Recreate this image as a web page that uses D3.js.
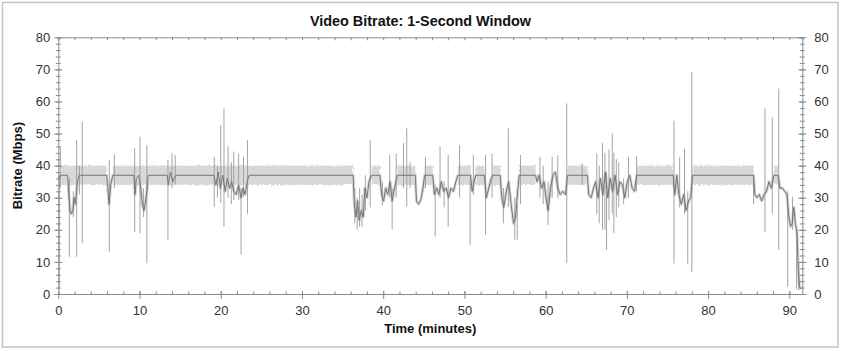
<!DOCTYPE html>
<html>
<head>
<meta charset="utf-8">
<script src="https://cdn.jsdelivr.net/npm/d3@7"></script>
<style>
  body { margin: 0; background: #fff; }
  svg { display: block; }
  text { font-family: "Liberation Sans", Arial, sans-serif; }
</style>
</head>
<body>
<svg id="chart"></svg>
<script>
// steady stretches where the 1-second values sit in a tight band (minutes, Mbps)
var bandStart = [0.3, 6.7, 38.55, 41.75, 45.1, 49.2, 51.4, 53.5, 56.75, 62.7, 71.2, 78.1, 88.1]
var bandEnd   = [5.95, 36.3, 39.6, 43.95, 46.1, 50.75, 52.45, 54.4, 58.75, 65.15, 75.7, 85.6, 88.6]
var bandLow   = [34, 34, 34, 34, 34, 34, 34, 34, 34, 34, 34, 34, 34]
var bandHigh  = [40, 40, 40, 40, 40, 40, 40, 40, 40, 40, 40, 40, 40]

// underlying bitrate trace (minutes, Mbps)
var baseTime = [0.0, 0.35, 1.15, 1.3, 1.45, 1.6, 1.8, 1.95, 2.1, 2.35, 2.6, 5.95, 6.1, 6.25, 6.45, 6.7,
  9.3, 9.45, 9.6, 9.9, 10.15, 10.35, 10.55, 10.75, 10.95, 11.05, 13.4, 13.55, 13.8, 14.1, 14.45,
  19.15, 19.4, 19.7, 19.95, 20.25, 20.55, 20.8, 21.1, 21.35, 21.6, 21.9, 22.2, 22.5, 22.75, 23.0, 23.25, 23.5,
  36.3, 36.45, 36.65, 36.85, 37.05, 37.3, 37.55, 37.75, 38.0, 38.25, 38.55, 39.6, 39.8, 40.05, 40.3, 40.55,
  40.85, 41.1, 41.4, 41.75, 43.95, 44.1, 44.35, 44.65, 44.9, 45.1, 46.1, 46.3, 46.6, 46.85, 47.15, 47.45,
  47.75, 48.05, 48.35, 48.65, 48.95, 49.2, 50.75, 50.95, 51.2, 51.4, 52.45, 52.7, 53.0, 53.3, 53.5, 54.4,
  54.6, 54.85, 55.15, 55.45, 55.75, 56.05, 56.3, 56.55, 56.75, 58.75, 58.95, 59.2, 59.5, 59.8, 60.05, 60.3,
  60.6, 60.9, 61.2, 61.5, 61.8, 62.1, 62.45, 62.7, 65.15, 65.3, 65.6, 65.9, 66.15, 66.45, 66.75, 67.05,
  67.35, 67.65, 67.95, 68.25, 68.55, 68.85, 69.15, 69.45, 69.75, 70.05, 70.35, 70.65, 70.95, 71.2, 75.7,
  75.9, 76.15, 76.4, 76.7, 77.0, 77.3, 77.6, 77.85, 78.1, 85.6, 85.75, 86.0, 86.3, 86.6, 86.9, 87.2, 87.5,
  87.8, 88.1, 88.6, 88.85, 89.15, 89.45, 89.7, 89.95, 90.15, 90.35, 90.55, 90.75, 90.95, 91.1, 91.25, 91.4]
var baseRate = [36, 37, 37, 31, 26, 25, 26, 30, 28, 35, 37, 37, 33, 28, 34, 37,
  37, 31, 36, 37, 33, 28, 26, 29, 33, 37, 37, 34, 38, 35, 37,
  37, 34, 38, 33, 37, 32, 36, 33, 35, 32, 31, 34, 30, 33, 31, 35, 37,
  37, 28, 24, 29, 23, 26, 24, 33, 30, 35, 37, 37, 31, 29, 33, 31,
  35, 29, 33, 37, 37, 29, 28, 29.5, 33, 37, 37, 31, 33, 31, 35, 32,
  33, 30, 33, 32, 35, 37, 37, 32, 35, 37, 37, 30, 33, 36, 37, 37,
  30, 27, 32, 35, 28, 22, 24, 32, 37, 37, 35, 37, 33, 35, 30, 26,
  33, 37, 38, 33, 31, 32, 31, 37, 37, 31, 30, 33, 35, 30, 36, 31,
  38, 30, 36, 32, 37, 31, 35, 34, 30, 35, 37, 33, 32, 37, 37,
  31, 37, 31, 28, 31, 26, 29, 30, 37, 37, 31, 30, 31, 29, 31, 32, 35,
  33, 37, 37, 33, 33, 32, 31, 24, 21, 22, 27, 22, 19, 8, 2.5, 1.5]

// short spikes: minute, lowest and highest 1-second value (Mbps)
var spikeTime = [0.12, 0.25, 1.36, 1.85, 2.26, 2.6, 2.95, 6.28, 6.9, 9.4, 10.06, 10.5, 10.9, 13.5, 14.0, 14.4,
  19.2, 19.6, 20.0, 20.4, 20.9, 21.3, 21.6, 22.2, 22.5, 22.8, 23.3, 36.5, 36.8, 37.1, 37.4, 37.8, 38.4,
  39.9, 40.8, 41.1, 41.6, 42.5, 42.9, 43.3, 45.2, 46.4, 47.0, 47.5, 48.0, 49.4, 50.7, 51.1, 52.6, 53.4,
  54.8, 55.4, 56.2, 56.5, 56.9, 59.3, 59.7, 60.3, 60.8, 61.5, 62.6, 64.5, 66.3, 66.6, 67.0, 67.3, 67.5,
  67.8, 68.2, 68.4, 68.7, 69.0, 69.6, 70.2, 71.2, 75.8, 76.5, 77.1, 77.5, 78.0, 85.6, 87.0, 87.9, 88.7,
  89.8, 90.4, 90.9, 91.15]
var spikeLow = [1.5, 33, 11.6, 24, 11.6, 31, 15.8, 13.2, 33, 19.4, 18.9, 24, 9.6, 16.8, 33, 34,
  27.2, 30, 28.3, 21, 30, 28, 29.3, 29.3, 12.2, 30.3, 25, 22, 20, 21, 21, 26, 27,
  27.6, 30, 20, 30, 33, 27.2, 33, 33, 17.9, 30, 27, 21, 30, 15.3, 31, 18.4, 30,
  22, 27, 17, 16.8, 28, 30, 28, 21.5, 30, 30, 9.6, 34, 25, 22, 20, 20, 13.7,
  23, 25, 19, 24, 27, 28, 30, 32, 9.5, 27, 25, 9.4, 6.8, 28, 19.3, 25, 13.7,
  2.3, 20, 1.5, 1.2]
var spikeHigh = [37, 46, 36, 32, 48, 40, 53.7, 41.8, 43.6, 45.4, 49, 33, 46.4, 41.8, 43.8, 43.3,
  42.8, 40, 52.7, 57.9, 46, 41, 44.4, 43.8, 33, 42.8, 48, 33, 30, 33, 31, 37, 48,
  35, 43.3, 33, 43.8, 47, 51.6, 41, 42.8, 34, 46, 35, 43.3, 46.4, 36, 43.3, 43.3, 43.8,
  33, 51.6, 30, 28, 43.3, 42.8, 40, 35, 42.8, 43.3, 59.4, 40.7, 43.8, 40, 47, 44, 38,
  45, 50, 44, 42, 41, 36, 42.8, 43, 54, 42.7, 45.3, 32, 69.3, 37, 57.9, 55, 64,
  32, 30.3, 20, 10]

var xTicks = [0, 10, 20, 30, 40, 50, 60, 70, 80, 90]
var yTicks = [0, 10, 20, 30, 40, 50, 60, 70, 80]

var width = 841
var height = 351
var plotLeft = 58.3, plotRight = 802.3, plotTop = 37.3, plotBottom = 294

var svg = d3.select('#chart').attr('width', width).attr('height', height)

// outer frame
svg.append('rect')
  .attr('x', 2.5).attr('y', 2.5)
  .attr('width', 835.5).attr('height', 344.5)
  .attr('fill', '#fff')
  .attr('stroke', '#c4c4c4')
  .attr('stroke-width', 1.5)

var x = d3.scaleLinear().domain([0, 91.6]).range([plotLeft, plotRight])
var y = d3.scaleLinear().domain([0, 80]).range([plotBottom, plotTop])

// fuzzy edges for the band
var defs = svg.append('defs')
var fuzz = defs.append('filter').attr('id', 'fuzz')
  .attr('x', '-2%').attr('y', '-30%').attr('width', '104%').attr('height', '160%')
fuzz.append('feTurbulence')
  .attr('type', 'fractalNoise').attr('baseFrequency', '0.6 0.3')
  .attr('numOctaves', 2).attr('seed', 3).attr('result', 'noise')
fuzz.append('feDisplacementMap')
  .attr('in', 'SourceGraphic').attr('in2', 'noise')
  .attr('scale', 3.5).attr('xChannelSelector', 'R').attr('yChannelSelector', 'G')

var plot = svg.append('g')

plot.append('g')
  .attr('filter', 'url(#fuzz)')
  .selectAll('rect')
  .data(bandStart)
  .enter().append('rect')
    .attr('x', function (d, i) { return x(bandStart[i]) })
    .attr('width', function (d, i) { return x(bandEnd[i]) - x(bandStart[i]) })
    .attr('y', function (d, i) { return y(bandHigh[i]) })
    .attr('height', function (d, i) { return y(bandLow[i]) - y(bandHigh[i]) })
    .attr('fill', '#d8d8d8')

var base = baseTime.map(function (t, i) { return [t, baseRate[i]] })
var line = d3.line()
  .x(function (d) { return x(d[0]) })
  .y(function (d) { return y(d[1]) })

// light halo around the trace
plot.append('path')
  .datum(base)
  .attr('d', line)
  .attr('fill', 'none')
  .attr('stroke', '#d6d6d6')
  .attr('stroke-width', 3)
  .attr('stroke-linejoin', 'round')

plot.append('g')
  .selectAll('line')
  .data(spikeTime)
  .enter().append('line')
    .attr('x1', function (d) { return x(d) })
    .attr('x2', function (d) { return x(d) })
    .attr('y1', function (d, i) { return y(spikeLow[i]) })
    .attr('y2', function (d, i) { return y(spikeHigh[i]) })
    .attr('stroke', '#9a9a9a')
    .attr('stroke-width', 0.9)

plot.append('path')
  .datum(base)
  .attr('d', line)
  .attr('fill', 'none')
  .attr('stroke', '#767676')
  .attr('stroke-width', 1)

// axes
var axisColor = '#8a8a8a'
function styleAxis(g, showDomain) {
  g.selectAll('line').attr('stroke', axisColor)
  g.select('.domain').attr('stroke', showDomain ? axisColor : 'none')
  g.selectAll('text').attr('fill', '#333').attr('font-size', 13)
    .attr('font-family', '"Liberation Sans", Arial, sans-serif')
}

var yMinor = d3.range(0, 81, 2)
var xMinor = d3.range(0, 91, 2)

// left
svg.append('g').attr('transform', 'translate(' + plotLeft + ',0)')
  .call(d3.axisLeft(y).tickValues(yMinor).tickSize(2.5).tickFormat(''))
  .call(styleAxis, false)
svg.append('g').attr('transform', 'translate(' + plotLeft + ',0)')
  .call(d3.axisRight(y).tickValues(yMinor).tickSize(2.5).tickFormat(''))
  .call(styleAxis, false)
svg.append('g').attr('transform', 'translate(' + plotLeft + ',0)')
  .call(d3.axisRight(y).tickValues(yTicks).tickSize(4).tickFormat(''))
  .call(styleAxis, false)
svg.append('g').attr('transform', 'translate(' + plotLeft + ',0)')
  .call(d3.axisLeft(y).tickValues(yTicks).tickSizeInner(4).tickSizeOuter(0).tickPadding(4))
  .call(styleAxis, true)

// right
svg.append('g').attr('transform', 'translate(' + plotRight + ',0)')
  .call(d3.axisLeft(y).tickValues(yMinor).tickSize(2.5).tickFormat(''))
  .call(styleAxis, false)
svg.append('g').attr('transform', 'translate(' + plotRight + ',0)')
  .call(d3.axisRight(y).tickValues(yMinor).tickSize(2.5).tickFormat(''))
  .call(styleAxis, false)
svg.append('g').attr('transform', 'translate(' + plotRight + ',0)')
  .call(d3.axisLeft(y).tickValues(yTicks).tickSize(4).tickFormat(''))
  .call(styleAxis, false)
svg.append('g').attr('transform', 'translate(' + plotRight + ',0)')
  .call(d3.axisRight(y).tickValues(yTicks).tickSizeInner(4).tickSizeOuter(0).tickPadding(8))
  .call(styleAxis, true)

// top
svg.append('g').attr('transform', 'translate(0,' + plotTop + ')')
  .call(d3.axisBottom(x).tickValues(xMinor).tickSize(3).tickFormat(''))
  .call(styleAxis, true)

// bottom
svg.append('g').attr('transform', 'translate(0,' + plotBottom + ')')
  .call(d3.axisTop(x).tickValues(xMinor).tickSize(2.5).tickFormat(''))
  .call(styleAxis, false)
svg.append('g').attr('transform', 'translate(0,' + plotBottom + ')')
  .call(d3.axisTop(x).tickValues(xTicks).tickSize(3).tickFormat(''))
  .call(styleAxis, false)
svg.append('g').attr('transform', 'translate(0,' + plotBottom + ')')
  .call(d3.axisBottom(x).tickValues(xTicks).tickSizeInner(5).tickSizeOuter(0).tickPadding(7))
  .call(styleAxis, true)

// titles
svg.append('text')
  .attr('x', 420.5).attr('y', 26)
  .attr('text-anchor', 'middle')
  .attr('font-size', 14.4).attr('font-weight', 'bold').attr('fill', '#111')
  .text('Video Bitrate: 1-Second Window')

svg.append('text')
  .attr('x', (plotLeft + plotRight) / 2).attr('y', 333)
  .attr('text-anchor', 'middle')
  .attr('font-size', 13).attr('font-weight', 'bold').attr('fill', '#111')
  .text('Time (minutes)')

svg.append('text')
  .attr('transform', 'translate(22,' + ((plotTop + plotBottom) / 2) + ') rotate(-90)')
  .attr('text-anchor', 'middle')
  .attr('font-size', 13).attr('font-weight', 'bold').attr('fill', '#111')
  .text('Bitrate (Mbps)')
</script>
</body>
</html>
